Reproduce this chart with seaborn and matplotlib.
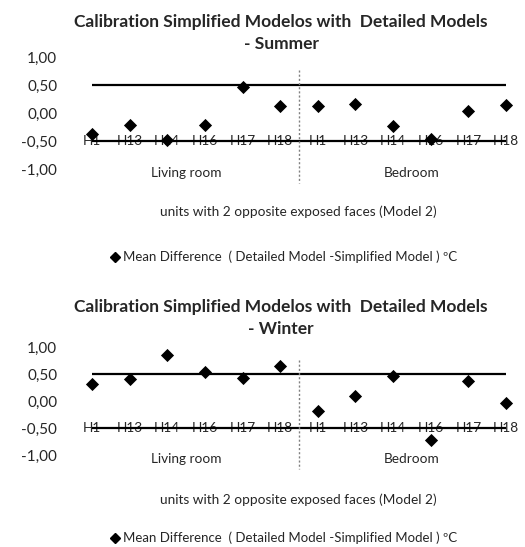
import numpy as np
import pandas as pd
import seaborn as sns
from matplotlib import pyplot as plt
from matplotlib.lines import Line2D

units = ["H1", "H13", "H14", "H16", "H17", "H18"]
rooms = ["Living room", "Bedroom"]
summer_diff = [-0.38, -0.21, -0.48, -0.21, 0.46, 0.13,
               0.13, 0.16, -0.23, -0.47, 0.04, 0.14]
winter_diff = [0.31, 0.40, 0.85, 0.54, 0.42, 0.65,
               -0.19, 0.09, 0.46, -0.72, 0.37, -0.04]
upper_limit = [0.5] * 12
lower_limit = [-0.5] * 12
y_ticks = [-1.0, -0.5, 0.0, 0.5, 1.0]

sns.set_style("white")
plt.rcParams["font.family"] = ["Lato", "DejaVu Sans"]

W, H = 525, 547
fig = plt.figure(figsize=(W / 100, H / 100), dpi=100)


def fx(px):
    return px / W


def fy(py):
    return 1 - py / H


def make_frame(values):
    labels = [u for r in rooms for u in units]
    room_col = [r for r in rooms for u in units]
    return pd.DataFrame({
        "pos": np.arange(len(labels)),
        "unit": labels,
        "room": room_col,
        "diff": values,
        "upper": upper_limit,
        "lower": lower_limit,
    })


def draw_panel(values, season, top_px, bottom_px, title_px, xlabel_px, legend_px):
    df = make_frame(values)
    ax = fig.add_axes([fx(92), fy(bottom_px), fx(414), (bottom_px - top_px) / H])
    sns.lineplot(data=df, x="pos", y="upper", color="black", lw=1.6, ax=ax)
    sns.lineplot(data=df, x="pos", y="lower", color="black", lw=1.6, ax=ax)
    sns.scatterplot(data=df, x="pos", y="diff", marker="D", s=45, color="black",
                    edgecolor="black", linewidth=0, zorder=5, clip_on=False, ax=ax)
    ax.set_xlim(0, 11)
    ax.set_ylim(-1, 1)
    ax.set_yticks(y_ticks)
    ax.set_yticklabels([f"{v:.2f}".replace(".", ",") for v in y_ticks], fontsize=11)
    ax.tick_params(axis="y", length=0, pad=25)
    ax.set_xticks([])
    ax.set_xlabel("")
    ax.set_ylabel("")
    sns.despine(ax=ax, left=True, bottom=True)
    ax.set_facecolor("none")

    # category labels sit on the -0.5 axis line
    for i, u in enumerate(df["unit"]):
        ax.text(i, -0.5, u, ha="center", va="center", fontsize=9.8, zorder=1)

    span = bottom_px - top_px

    def dy(py):
        return 1 - 2 * (py - top_px) / span

    ax.plot([5.5, 5.5], [dy(top_px + 13), dy(bottom_px + 14)], ls=(0, (1.5, 1.5)),
            color="grey", lw=1, clip_on=False)
    ax.text(2.5, dy(bottom_px + 4), rooms[0], ha="center", va="center", fontsize=9.8)
    ax.text(8.5, dy(bottom_px + 4), rooms[1], ha="center", va="center", fontsize=9.8)

    fig.text(fx(298), fy(xlabel_px), "units with 2 opposite exposed faces (Model 2)",
             ha="center", va="center", fontsize=9.8)
    fig.text(fx(281), fy(title_px),
             f"Calibration Simplified Modelos with  Detailed Models\n- {season}",
             ha="center", va="center", fontsize=12.5, fontweight="bold", linespacing=1.45)

    handle = Line2D([], [], marker="D", color="black", ls="none", markersize=5.5)
    fig.legend([handle], ["Mean Difference  ( Detailed Model -Simplified Model ) ºC"],
               loc="center", bbox_to_anchor=(fx(283), fy(legend_px)),
               frameon=False, fontsize=9.5, handletextpad=0.1, handlelength=1)
    return ax


draw_panel(summer_diff, "Summer", 57, 169, 33, 212, 257)
draw_panel(winter_diff, "Winter", 347, 455, 318, 500, 538)

fig.savefig("out.png", dpi=100)
